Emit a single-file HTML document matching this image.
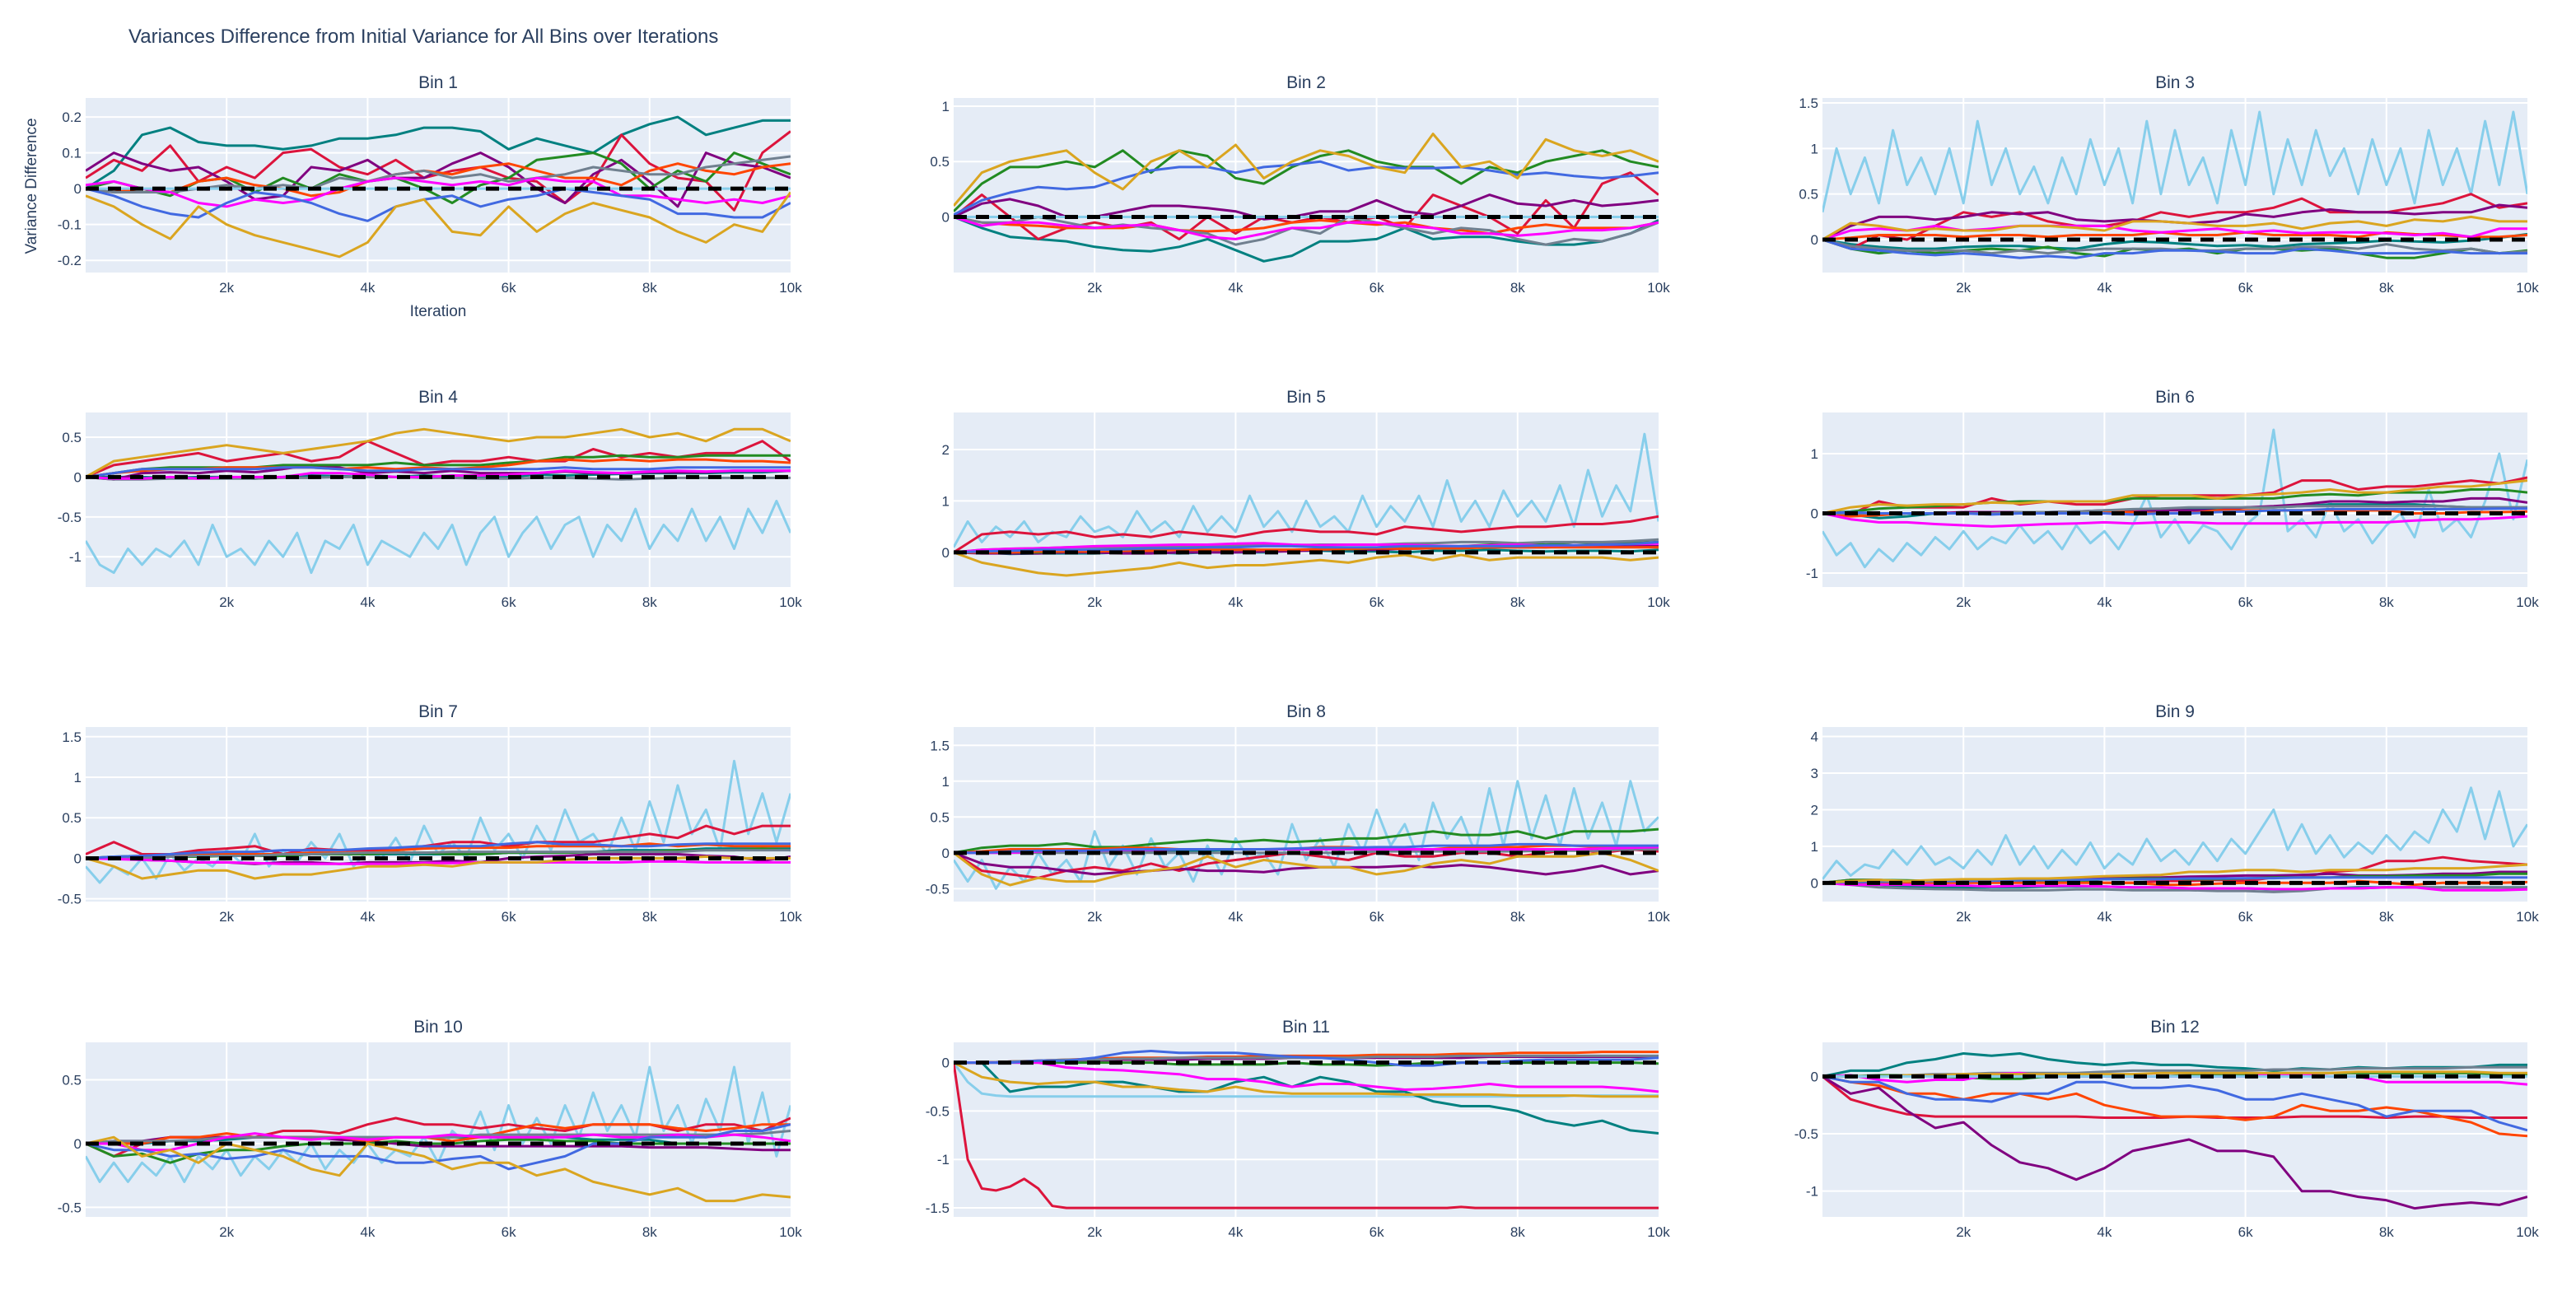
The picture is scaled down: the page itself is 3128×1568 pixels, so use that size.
<!DOCTYPE html>
<html><head><meta charset="utf-8"><style>
html,body{margin:0;padding:0;background:#fff}
svg{display:block;font-family:"Liberation Sans",Arial,sans-serif}
</style></head><body>
<svg id="chart" width="3128" height="1568" viewBox="0 0 3128 1568" xmlns="http://www.w3.org/2000/svg">
<text x="156" y="52" font-size="24" fill="#2a3f5f">Variances Difference from Initial Variance for All Bins over Iterations</text>
<text transform="translate(44,226) rotate(-90)" text-anchor="middle" font-size="19" fill="#2a3f5f">Variance Difference</text>
<text x="532" y="384" text-anchor="middle" font-size="19" fill="#2a3f5f">Iteration</text>
<g id="panels"></g>
</svg>
<script>
const xCoarse=[0,400,800,1200,1600,2000,2400,2800,3200,3600,4000,4400,4800,5200,5600,6000,6400,6800,7200,7600,8000,8400,8800,9200,9600,10000];
const xFine=[0,200,400,600,800,1000,1200,1400,1600,1800,2000,2200,2400,2600,2800,3000,3200,3400,3600,3800,4000,4200,4400,4600,4800,5000,5200,5400,5600,5800,6000,6200,6400,6600,6800,7000,7200,7400,7600,7800,8000,8200,8400,8600,8800,9000,9200,9400,9600,9800,10000];
const xTickVals=[2000,4000,6000,8000,10000];
const xTickLabels=["2k","4k","6k","8k","10k"];
const seriesColors={skyblue:"#87CEEB",teal:"#008080",crimson:"#DC143C",purple:"#800080",green:"#228B22",orangered:"#FF4500",slategray:"#708090",magenta:"#FF00FF",royalblue:"#4169E1",goldenrod:"#DAA520"};
const binNames=["Bin 1","Bin 2","Bin 3","Bin 4","Bin 5","Bin 6","Bin 7","Bin 8","Bin 9","Bin 10","Bin 11","Bin 12"];
const yRanges=[[-0.234,0.253],[-0.502,1.074],[-0.361,1.554],[-1.38,0.81],[-0.674,2.72],[-1.235,1.69],[-0.534,1.62],[-0.68,1.756],[-0.51,4.26],[-0.575,0.794],[-1.593,0.209],[-1.225,0.297]];
const yTicks=[[-0.2,-0.1,0,0.1,0.2],[0,0.5,1],[0,0.5,1,1.5],[-1,-0.5,0,0.5],[0,1,2],[-1,0,1],[-0.5,0,0.5,1,1.5],[-0.5,0,0.5,1,1.5],[0,1,2,3,4],[-0.5,0,0.5],[-1.5,-1,-0.5,0],[-1,-0.5,0]];
const yTickLabels=[["-0.2","-0.1","0","0.1","0.2"],["0","0.5","1"],["0","0.5","1","1.5"],["-1","-0.5","0","0.5"],["0","1","2"],["-1","0","1"],["-0.5","0","0.5","1","1.5"],["-0.5","0","0.5","1","1.5"],["0","1","2","3","4"],["-0.5","0","0.5"],["-1.5","-1","-0.5","0"],["-1","-0.5","0"]];

const bin1={
teal:[0,0.05,0.15,0.17,0.13,0.12,0.12,0.11,0.12,0.14,0.14,0.15,0.17,0.17,0.16,0.11,0.14,0.12,0.10,0.15,0.18,0.20,0.15,0.17,0.19,0.19],
crimson:[0.03,0.08,0.05,0.12,0.02,0.06,0.03,0.10,0.11,0.06,0.04,0.08,0.03,0.05,0.06,0.03,0.02,-0.04,0.02,0.15,0.07,0.03,0.02,-0.06,0.10,0.16],
purple:[0.05,0.10,0.07,0.05,0.06,0.02,-0.03,-0.02,0.06,0.05,0.08,0.03,0.03,0.07,0.10,0.06,0.00,-0.04,0.04,0.08,0.02,-0.05,0.10,0.07,0.06,0.03],
green:[0,0.02,0.0,-0.02,0.02,0.03,-0.01,0.03,0.0,0.04,0.02,0.03,0.0,-0.04,0.01,0.03,0.08,0.09,0.10,0.07,0.00,0.05,0.02,0.10,0.07,0.04],
orangered:[0,-0.01,0.0,-0.01,0.02,0.03,0.01,0.0,-0.02,-0.01,0.02,0.04,0.05,0.04,0.06,0.07,0.05,0.03,0.03,0.01,0.05,0.07,0.05,0.04,0.06,0.07],
slategray:[0,-0.01,-0.01,-0.01,0.0,0.01,0.0,0.01,0.0,0.03,0.02,0.04,0.05,0.03,0.04,0.02,0.03,0.04,0.06,0.05,0.04,0.04,0.06,0.07,0.08,0.09],
magenta:[0.01,0.02,0.0,-0.01,-0.04,-0.05,-0.03,-0.04,-0.03,0.0,0.02,0.03,0.02,0.01,0.02,0.01,0.03,0.02,0.02,-0.02,-0.02,-0.03,-0.04,-0.03,-0.04,-0.02],
royalblue:[0,-0.02,-0.05,-0.07,-0.08,-0.04,-0.01,-0.02,-0.04,-0.07,-0.09,-0.05,-0.03,-0.02,-0.05,-0.03,-0.02,0.00,-0.01,-0.02,-0.03,-0.07,-0.07,-0.08,-0.08,-0.04],
goldenrod:[-0.02,-0.05,-0.10,-0.14,-0.05,-0.10,-0.13,-0.15,-0.17,-0.19,-0.15,-0.05,-0.03,-0.12,-0.13,-0.05,-0.12,-0.07,-0.04,-0.06,-0.08,-0.12,-0.15,-0.10,-0.12,-0.01]};
const bin2={
teal:[0,-0.1,-0.18,-0.2,-0.22,-0.27,-0.3,-0.31,-0.27,-0.2,-0.3,-0.4,-0.35,-0.22,-0.22,-0.2,-0.1,-0.2,-0.18,-0.18,-0.22,-0.25,-0.25,-0.22,-0.15,-0.03],
crimson:[0,0.2,0.0,-0.2,-0.1,-0.05,-0.1,-0.05,-0.2,0.0,-0.15,0.0,-0.05,0.0,-0.05,0.0,-0.1,0.2,0.1,0.0,-0.15,0.15,-0.1,0.3,0.4,0.2],
purple:[0,0.12,0.16,0.1,0.0,0.0,0.05,0.1,0.1,0.08,0.05,-0.02,0.0,0.05,0.05,0.15,0.05,0.02,0.1,0.2,0.12,0.1,0.15,0.1,0.12,0.15],
green:[0.05,0.3,0.45,0.45,0.5,0.45,0.6,0.4,0.6,0.55,0.35,0.3,0.45,0.55,0.6,0.5,0.45,0.45,0.3,0.45,0.4,0.5,0.55,0.6,0.5,0.45],
orangered:[0,-0.05,-0.07,-0.08,-0.1,-0.1,-0.1,-0.07,-0.12,-0.13,-0.12,-0.1,-0.05,-0.03,-0.05,-0.07,-0.05,-0.1,-0.12,-0.15,-0.1,-0.07,-0.1,-0.1,-0.1,-0.05],
slategray:[0,-0.05,-0.05,0.0,-0.05,-0.1,-0.07,-0.1,-0.12,-0.15,-0.25,-0.2,-0.1,-0.15,0.0,-0.05,-0.1,-0.15,-0.1,-0.12,-0.2,-0.25,-0.2,-0.22,-0.15,-0.05],
magenta:[0,-0.08,-0.05,-0.05,-0.08,-0.1,-0.08,-0.07,-0.12,-0.18,-0.2,-0.15,-0.1,-0.1,-0.05,-0.05,-0.08,-0.1,-0.15,-0.15,-0.17,-0.15,-0.12,-0.12,-0.1,-0.05],
royalblue:[0.02,0.15,0.22,0.27,0.25,0.27,0.35,0.42,0.45,0.45,0.4,0.45,0.47,0.5,0.42,0.45,0.44,0.44,0.45,0.42,0.38,0.40,0.37,0.35,0.37,0.40],
goldenrod:[0.1,0.4,0.5,0.55,0.6,0.4,0.25,0.5,0.6,0.45,0.65,0.35,0.5,0.6,0.55,0.45,0.4,0.75,0.45,0.5,0.35,0.7,0.6,0.55,0.6,0.5]};
const bin3={
skyblue:[0.3,1.0,0.5,0.9,0.4,1.2,0.6,0.9,0.5,1.0,0.4,1.3,0.6,1.0,0.5,0.8,0.4,0.9,0.5,1.1,0.6,1.0,0.4,1.3,0.5,1.2,0.6,0.9,0.4,1.2,0.6,1.4,0.5,1.1,0.6,1.2,0.7,1.0,0.5,1.1,0.6,1.0,0.4,1.2,0.6,1.0,0.5,1.3,0.6,1.4,0.5],
teal:[0,-0.05,-0.08,-0.1,-0.1,-0.08,-0.07,-0.07,-0.09,-0.1,-0.05,-0.02,-0.03,-0.05,-0.07,-0.06,-0.08,-0.05,-0.04,-0.03,-0.01,-0.02,-0.03,-0.01,0.02,0.06],
crimson:[0,-0.1,0.05,0.0,0.15,0.3,0.25,0.3,0.2,0.15,0.15,0.2,0.3,0.25,0.3,0.3,0.35,0.45,0.3,0.3,0.3,0.35,0.4,0.5,0.35,0.4],
purple:[0,0.15,0.25,0.25,0.22,0.25,0.3,0.28,0.3,0.22,0.2,0.22,0.2,0.18,0.2,0.28,0.25,0.3,0.33,0.3,0.3,0.28,0.3,0.3,0.38,0.35],
green:[0,-0.1,-0.15,-0.12,-0.15,-0.12,-0.1,-0.12,-0.08,-0.15,-0.18,-0.1,-0.12,-0.1,-0.15,-0.1,-0.1,-0.12,-0.1,-0.15,-0.2,-0.2,-0.15,-0.1,-0.15,-0.12],
orangered:[0,0.02,0.05,0.05,0.05,0.03,0.05,0.05,0.03,0.05,0.05,0.05,0.08,0.05,0.05,0.08,0.05,0.05,0.05,0.03,0.08,0.06,0.05,0.03,0.03,0.05],
slategray:[0,-0.07,-0.1,-0.12,-0.12,-0.12,-0.15,-0.12,-0.15,-0.12,-0.1,-0.1,-0.1,-0.12,-0.12,-0.1,-0.1,-0.08,-0.08,-0.1,-0.05,-0.1,-0.12,-0.1,-0.15,-0.13],
magenta:[0,0.1,0.12,0.1,0.15,0.1,0.12,0.15,0.15,0.15,0.15,0.1,0.08,0.1,0.12,0.08,0.1,0.07,0.08,0.08,0.07,0.05,0.07,0.03,0.12,0.12],
royalblue:[0,-0.1,-0.12,-0.15,-0.17,-0.15,-0.17,-0.2,-0.18,-0.2,-0.15,-0.15,-0.12,-0.12,-0.13,-0.15,-0.15,-0.1,-0.12,-0.15,-0.15,-0.15,-0.13,-0.15,-0.15,-0.15],
goldenrod:[0,0.18,0.15,0.1,0.12,0.1,0.1,0.15,0.15,0.13,0.1,0.2,0.2,0.18,0.15,0.15,0.18,0.12,0.18,0.2,0.15,0.22,0.2,0.25,0.2,0.2]};
const bin4={
skyblue:[-0.8,-1.1,-1.2,-0.9,-1.1,-0.9,-1.0,-0.8,-1.1,-0.6,-1.0,-0.9,-1.1,-0.8,-1.0,-0.7,-1.2,-0.8,-0.9,-0.6,-1.1,-0.8,-0.9,-1.0,-0.7,-0.9,-0.6,-1.1,-0.7,-0.5,-1.0,-0.7,-0.5,-0.9,-0.6,-0.5,-1.0,-0.6,-0.8,-0.4,-0.9,-0.6,-0.8,-0.4,-0.8,-0.5,-0.9,-0.4,-0.7,-0.3,-0.7],
goldenrod:[0,0.2,0.25,0.3,0.35,0.4,0.35,0.3,0.35,0.4,0.45,0.55,0.6,0.55,0.5,0.45,0.5,0.5,0.55,0.6,0.5,0.55,0.45,0.6,0.6,0.45],
crimson:[0,0.15,0.2,0.25,0.3,0.2,0.25,0.3,0.2,0.25,0.45,0.3,0.15,0.2,0.2,0.25,0.2,0.2,0.35,0.25,0.3,0.25,0.3,0.3,0.45,0.2],
green:[0,0.05,0.1,0.12,0.12,0.12,0.12,0.15,0.15,0.15,0.15,0.18,0.15,0.15,0.15,0.18,0.2,0.25,0.25,0.27,0.25,0.25,0.27,0.27,0.27,0.27],
orangered:[0,0.05,0.08,0.1,0.1,0.12,0.12,0.12,0.12,0.1,0.12,0.1,0.12,0.1,0.12,0.15,0.2,0.22,0.2,0.22,0.2,0.22,0.22,0.2,0.2,0.18],
royalblue:[0,0.05,0.1,0.1,0.1,0.1,0.1,0.12,0.12,0.1,0.08,0.08,0.1,0.1,0.1,0.1,0.1,0.12,0.1,0.1,0.1,0.12,0.12,0.12,0.12,0.12],
purple:[0,-0.03,0.05,0.06,0.05,0.08,0.06,0.1,0.15,0.12,0.05,0.07,0.05,0.08,0.05,0.05,0.05,0.07,0.05,0.05,0.06,0.06,0.06,0.08,0.08,0.08],
magenta:[0,-0.02,-0.02,0.0,-0.02,0.0,0.0,0.0,0.05,0.05,0.03,0.0,0.0,0.02,0.02,0.03,0.05,0.08,0.06,0.05,0.07,0.08,0.07,0.08,0.08,0.08],
teal:[0,0.0,0.0,-0.01,0.0,0.0,-0.02,0.0,0.02,0.01,0.0,0.0,0.02,0.0,0.0,0.0,0.03,0.02,0.03,0.04,0.05,0.05,0.05,0.06,0.06,0.08],
slategray:[0,-0.03,-0.03,-0.02,-0.02,-0.02,-0.02,-0.01,-0.01,0.0,0.0,0.0,-0.01,-0.01,-0.02,-0.02,-0.01,-0.01,-0.02,-0.03,-0.02,-0.01,-0.01,-0.01,-0.01,-0.01]};
const bin5={
skyblue:[0.1,0.6,0.2,0.5,0.3,0.6,0.2,0.4,0.3,0.7,0.4,0.5,0.3,0.8,0.4,0.6,0.3,0.9,0.4,0.7,0.4,1.1,0.5,0.8,0.4,1.0,0.5,0.7,0.4,1.1,0.5,0.9,0.6,1.1,0.5,1.4,0.6,1.0,0.5,1.2,0.7,1.0,0.6,1.3,0.5,1.6,0.7,1.3,0.8,2.3,0.6],
crimson:[0,0.35,0.4,0.35,0.4,0.3,0.35,0.3,0.4,0.35,0.3,0.4,0.45,0.4,0.4,0.35,0.5,0.45,0.4,0.45,0.5,0.5,0.55,0.55,0.6,0.7],
goldenrod:[0,-0.2,-0.3,-0.4,-0.45,-0.4,-0.35,-0.3,-0.2,-0.3,-0.25,-0.25,-0.2,-0.15,-0.2,-0.1,-0.05,-0.15,-0.05,-0.15,-0.1,-0.1,-0.1,-0.1,-0.15,-0.1],
teal:[0,0.0,-0.03,-0.02,-0.02,-0.02,0.0,0.0,-0.02,0.0,0.0,0.0,0.03,0.03,0.02,0.02,0.0,0.03,0.03,0.05,0.03,0.02,0.03,0.03,0.02,0.05],
slategray:[0,0.05,0.07,0.08,0.1,0.1,0.1,0.12,0.12,0.13,0.13,0.14,0.14,0.15,0.15,0.15,0.17,0.18,0.2,0.2,0.18,0.2,0.2,0.2,0.22,0.25],
magenta:[0,0.05,0.07,0.08,0.1,0.12,0.13,0.14,0.15,0.15,0.17,0.18,0.15,0.14,0.15,0.15,0.15,0.13,0.12,0.14,0.15,0.13,0.14,0.15,0.16,0.17],
royalblue:[0,0.02,0.03,0.05,0.05,0.05,0.06,0.08,0.08,0.1,0.1,0.12,0.12,0.1,0.1,0.1,0.12,0.12,0.12,0.12,0.12,0.14,0.14,0.15,0.16,0.2],
green:[0,0.0,0.0,0.0,0.02,0.02,0.03,0.05,0.05,0.05,0.05,0.05,0.05,0.06,0.06,0.08,0.1,0.1,0.12,0.15,0.15,0.15,0.2,0.18,0.18,0.2],
orangered:[0,0.0,0.0,0.02,0.02,0.02,0.03,0.03,0.05,0.05,0.05,0.05,0.05,0.06,0.07,0.08,0.07,0.08,0.08,0.1,0.1,0.1,0.1,0.1,0.1,0.1],
purple:[0,-0.02,-0.02,-0.02,0.0,0.0,-0.02,-0.02,0.0,0.0,0.0,0.02,0.02,0.05,0.05,0.05,0.07,0.08,0.1,0.1,0.1,0.1,0.12,0.12,0.12,0.12]};
const bin6={
skyblue:[-0.3,-0.7,-0.5,-0.9,-0.6,-0.8,-0.5,-0.7,-0.4,-0.6,-0.3,-0.6,-0.4,-0.5,-0.2,-0.5,-0.3,-0.6,-0.2,-0.5,-0.3,-0.6,-0.2,0.3,-0.4,-0.1,-0.5,-0.2,-0.3,-0.6,-0.2,0.0,1.4,-0.3,-0.1,-0.4,0.2,-0.3,-0.1,-0.5,-0.2,0.0,-0.4,0.4,-0.3,-0.1,-0.4,0.2,1.0,-0.1,0.9],
crimson:[0,-0.02,0.2,0.1,0.1,0.1,0.25,0.15,0.2,0.15,0.15,0.25,0.3,0.3,0.3,0.3,0.35,0.55,0.55,0.4,0.45,0.45,0.5,0.55,0.5,0.6],
goldenrod:[0,0.1,0.15,0.13,0.15,0.15,0.18,0.17,0.2,0.2,0.2,0.3,0.3,0.3,0.25,0.3,0.32,0.35,0.4,0.35,0.35,0.4,0.45,0.45,0.5,0.55],
green:[0,0.03,0.08,0.1,0.12,0.15,0.18,0.2,0.2,0.2,0.2,0.25,0.25,0.25,0.25,0.25,0.25,0.3,0.32,0.3,0.35,0.35,0.35,0.4,0.4,0.35],
purple:[0,0.0,0.0,0.0,0.0,0.02,0.02,0.02,0.02,0.03,0.05,0.05,0.05,0.05,0.05,0.1,0.12,0.15,0.2,0.2,0.18,0.2,0.2,0.25,0.25,0.18],
teal:[0,-0.02,-0.08,-0.05,0.0,0.0,0.0,0.0,0.02,0.03,0.02,0.02,0.05,0.07,0.08,0.1,0.1,0.12,0.15,0.15,0.15,0.15,0.12,0.1,0.1,0.1],
slategray:[0,0.0,0.0,0.0,0.0,0.0,0.0,0.02,0.02,0.03,0.05,0.07,0.08,0.1,0.1,0.1,0.1,0.12,0.12,0.12,0.12,0.12,0.12,0.1,0.1,0.1],
royalblue:[0,0.02,0.0,0.0,0.0,0.0,-0.02,0.0,0.0,0.0,0.0,-0.02,0.0,0.0,0.02,0.03,0.05,0.05,0.07,0.07,0.07,0.07,0.07,0.07,0.08,0.08],
orangered:[0,-0.05,-0.03,0.0,0.0,0.0,0.0,0.0,0.0,0.02,0.02,0.02,0.0,0.0,0.05,0.05,0.05,0.05,0.05,0.05,0.05,0.0,0.0,0.02,0.02,0.03],
magenta:[0,-0.1,-0.15,-0.15,-0.18,-0.2,-0.22,-0.2,-0.18,-0.17,-0.15,-0.17,-0.15,-0.15,-0.17,-0.17,-0.17,-0.17,-0.15,-0.15,-0.15,-0.12,-0.1,-0.1,-0.08,-0.05]};
const bin7={
skyblue:[-0.1,-0.3,-0.1,-0.2,0.0,-0.25,0.05,-0.15,0.0,-0.1,0.1,-0.05,0.3,-0.1,0.1,-0.05,0.2,0.0,0.3,-0.1,0.1,0.0,0.25,-0.05,0.4,0.05,0.2,0.0,0.5,0.1,0.3,0.0,0.4,0.1,0.6,0.2,0.3,0.05,0.5,0.1,0.7,0.2,0.9,0.3,0.6,0.1,1.2,0.3,0.8,0.2,0.8],
crimson:[0.05,0.2,0.05,0.05,0.1,0.12,0.15,0.05,0.12,0.1,0.1,0.1,0.15,0.2,0.2,0.15,0.2,0.2,0.2,0.25,0.3,0.25,0.4,0.3,0.4,0.4],
goldenrod:[0,-0.1,-0.25,-0.2,-0.15,-0.15,-0.25,-0.2,-0.2,-0.15,-0.1,-0.1,-0.08,-0.1,-0.05,-0.05,-0.05,-0.02,0.0,0.0,0.0,0.0,0.02,0.0,0.0,0.0],
royalblue:[0,0.02,0.03,0.05,0.07,0.08,0.08,0.1,0.1,0.1,0.12,0.13,0.15,0.15,0.15,0.18,0.2,0.17,0.17,0.15,0.15,0.17,0.18,0.18,0.18,0.18],
orangered:[0,0.0,0.02,0.02,0.05,0.05,0.05,0.05,0.07,0.07,0.07,0.1,0.12,0.13,0.13,0.13,0.15,0.15,0.15,0.15,0.18,0.15,0.17,0.15,0.15,0.15],
green:[0,0.02,0.03,0.02,0.02,0.03,0.03,0.03,0.05,0.05,0.05,0.07,0.07,0.05,0.05,0.07,0.07,0.07,0.08,0.08,0.08,0.1,0.1,0.1,0.12,0.1],
slategray:[0,0.0,0.0,0.02,0.03,0.03,0.03,0.05,0.05,0.06,0.07,0.07,0.07,0.08,0.08,0.08,0.08,0.08,0.08,0.08,0.08,0.08,0.1,0.1,0.1,0.1],
teal:[0,0.02,0.02,0.03,0.03,0.03,0.03,0.03,0.05,0.05,0.05,0.05,0.05,0.05,0.05,0.07,0.07,0.07,0.08,0.1,0.1,0.1,0.12,0.12,0.12,0.12],
purple:[0,0.0,-0.02,-0.03,-0.05,-0.05,-0.07,-0.05,-0.05,-0.07,-0.05,-0.05,-0.05,-0.03,-0.05,0.0,0.02,0.03,0.05,0.05,0.05,0.05,0.03,0.02,-0.03,0.02],
magenta:[0,-0.01,-0.02,-0.03,-0.05,-0.05,-0.06,-0.07,-0.07,-0.07,-0.07,-0.07,-0.06,-0.06,-0.05,-0.05,-0.05,-0.05,-0.05,-0.05,-0.04,-0.04,-0.05,-0.05,-0.05,-0.05]};
const bin8={
skyblue:[-0.1,-0.4,-0.1,-0.5,-0.2,-0.4,0.0,-0.3,-0.1,-0.4,0.3,-0.2,0.1,-0.3,0.2,-0.2,0.0,-0.4,0.1,-0.3,0.2,-0.1,0.0,-0.3,0.4,-0.1,0.2,-0.2,0.4,0.0,0.6,0.1,0.4,-0.1,0.7,0.2,0.5,0.0,0.9,0.1,1.0,0.2,0.8,0.1,0.9,0.2,0.7,0.1,1.0,0.3,0.5],
green:[0,0.07,0.1,0.1,0.13,0.08,0.08,0.12,0.15,0.18,0.15,0.18,0.15,0.17,0.2,0.2,0.25,0.3,0.25,0.25,0.3,0.2,0.3,0.3,0.3,0.33],
crimson:[0,-0.25,-0.3,-0.35,-0.25,-0.2,-0.25,-0.15,-0.25,-0.15,-0.1,-0.05,0.0,-0.05,-0.1,0.0,-0.05,-0.05,0.0,0.0,-0.05,0.0,0.05,0.0,0.05,0.02],
goldenrod:[0,-0.3,-0.45,-0.35,-0.4,-0.4,-0.3,-0.25,-0.2,-0.05,-0.2,-0.1,-0.15,-0.2,-0.2,-0.3,-0.25,-0.15,-0.1,-0.15,-0.05,-0.05,-0.05,0.0,-0.1,-0.25],
purple:[0,-0.15,-0.2,-0.2,-0.25,-0.3,-0.27,-0.25,-0.22,-0.25,-0.25,-0.27,-0.22,-0.2,-0.2,-0.2,-0.18,-0.2,-0.17,-0.2,-0.25,-0.3,-0.25,-0.18,-0.3,-0.25],
orangered:[0,0.02,0.05,0.05,0.05,0.05,0.07,0.07,0.05,0.05,0.05,0.05,0.05,0.08,0.08,0.05,0.05,0.05,0.08,0.08,0.08,0.1,0.1,0.08,0.08,0.08],
royalblue:[0,0.0,0.02,0.03,0.03,0.03,0.05,0.05,0.05,0.05,0.05,0.05,0.06,0.07,0.07,0.08,0.08,0.1,0.1,0.1,0.12,0.12,0.1,0.1,0.1,0.1],
magenta:[0,0.0,0.0,0.02,0.03,0.03,0.04,0.04,0.05,0.05,0.05,0.05,0.05,0.05,0.05,0.05,0.05,0.05,0.05,0.05,0.05,0.05,0.05,0.06,0.07,0.08],
teal:[0,0.0,0.02,0.02,0.02,0.03,0.03,0.03,0.03,0.03,0.05,0.05,0.05,0.05,0.05,0.05,0.05,0.05,0.05,0.05,0.05,0.05,0.05,0.05,0.05,0.05],
slategray:[0,0.0,0.0,0.0,0.0,0.0,0.0,0.0,0.0,0.0,0.0,0.0,0.0,0.0,0.0,0.02,0.02,0.02,0.02,0.02,0.02,0.03,0.03,0.03,0.05,0.05]};
const bin9={
skyblue:[0.1,0.6,0.2,0.5,0.4,0.9,0.5,1.0,0.5,0.7,0.4,0.9,0.5,1.3,0.5,1.0,0.4,0.9,0.5,1.1,0.4,0.8,0.5,1.2,0.6,0.9,0.5,1.1,0.6,1.2,0.8,1.4,2.0,0.9,1.6,0.8,1.3,0.7,1.1,0.8,1.3,0.9,1.4,1.1,2.0,1.4,2.6,1.2,2.5,1.0,1.6],
goldenrod:[0,0.05,0.08,0.05,0.08,0.1,0.1,0.12,0.12,0.15,0.18,0.2,0.22,0.3,0.3,0.35,0.35,0.3,0.35,0.35,0.35,0.4,0.4,0.4,0.45,0.5],
crimson:[0,0.08,0.08,0.05,0.05,0.03,0.05,0.05,0.08,0.1,0.0,0.0,0.05,0.05,0.08,0.05,0.15,0.15,0.3,0.35,0.6,0.6,0.7,0.6,0.55,0.5],
purple:[0,0.02,0.03,0.05,0.05,0.07,0.08,0.1,0.1,0.12,0.15,0.15,0.15,0.17,0.18,0.2,0.2,0.22,0.25,0.2,0.2,0.22,0.25,0.25,0.3,0.3],
green:[0,0.08,0.08,0.07,0.05,0.05,0.05,0.05,0.07,0.05,0.1,0.12,0.12,0.1,0.1,0.12,0.15,0.15,0.15,0.18,0.18,0.2,0.2,0.2,0.25,0.25],
royalblue:[0,0.02,0.03,0.05,0.05,0.05,0.06,0.07,0.08,0.08,0.1,0.1,0.1,0.12,0.12,0.13,0.13,0.15,0.15,0.15,0.15,0.15,0.15,0.15,0.15,0.15],
orangered:[0,0.02,0.0,0.0,0.0,0.0,0.0,0.0,0.0,0.0,0.0,0.0,-0.05,-0.05,-0.02,0.0,0.0,0.0,0.0,0.05,0.0,-0.05,0.0,0.0,0.0,0.02],
teal:[0,-0.02,-0.05,-0.1,-0.12,-0.12,-0.12,-0.12,-0.1,-0.1,-0.1,-0.12,-0.12,-0.15,-0.15,-0.15,-0.18,-0.18,-0.15,-0.12,-0.12,-0.12,-0.12,-0.12,-0.12,-0.12],
slategray:[0,-0.05,-0.12,-0.15,-0.17,-0.18,-0.2,-0.2,-0.2,-0.18,-0.18,-0.2,-0.2,-0.2,-0.22,-0.22,-0.25,-0.22,-0.15,-0.15,-0.12,-0.12,-0.12,-0.13,-0.13,-0.13],
magenta:[0,-0.05,-0.05,-0.05,-0.07,-0.07,-0.1,-0.08,-0.08,-0.08,-0.1,-0.12,-0.12,-0.15,-0.15,-0.15,-0.17,-0.17,-0.15,-0.15,-0.12,-0.12,-0.2,-0.2,-0.2,-0.18]};
const bin10={
skyblue:[-0.1,-0.3,-0.15,-0.3,-0.15,-0.25,-0.1,-0.3,-0.1,-0.2,-0.05,-0.25,-0.1,-0.2,-0.05,-0.15,0.0,-0.2,-0.05,-0.15,0.0,-0.15,-0.05,-0.1,0.05,-0.15,0.1,0.0,0.25,-0.05,0.3,0.0,0.2,0.0,0.3,0.05,0.4,0.1,0.3,0.05,0.6,0.1,0.3,0.0,0.35,0.1,0.6,0.0,0.4,-0.1,0.3],
goldenrod:[0,0.05,-0.1,-0.05,-0.15,0.0,-0.05,-0.1,-0.2,-0.25,0.0,-0.05,-0.1,-0.2,-0.15,-0.15,-0.25,-0.2,-0.3,-0.35,-0.4,-0.35,-0.45,-0.45,-0.4,-0.42],
royalblue:[0,-0.05,-0.05,-0.1,-0.08,-0.12,-0.1,-0.05,-0.1,-0.1,-0.1,-0.15,-0.15,-0.12,-0.1,-0.2,-0.15,-0.1,0.0,0.0,0.05,0.05,0.05,0.1,0.1,0.15],
crimson:[0,-0.1,0.0,0.05,0.05,0.05,0.05,0.1,0.1,0.08,0.15,0.2,0.15,0.15,0.12,0.15,0.12,0.1,0.15,0.15,0.15,0.1,0.15,0.15,0.1,0.2],
orangered:[0,0.0,0.0,0.05,0.05,0.08,0.05,0.05,0.05,0.05,0.02,0.05,0.05,0.02,0.05,0.1,0.15,0.12,0.15,0.15,0.15,0.12,0.1,0.12,0.15,0.15],
magenta:[0,0.0,-0.05,-0.05,0.0,0.05,0.08,0.05,0.03,0.05,0.03,0.05,0.05,0.07,0.05,0.05,0.05,0.05,0.07,0.05,0.05,0.07,0.05,0.07,0.05,0.02],
green:[0,-0.1,-0.08,-0.15,-0.08,-0.05,-0.05,-0.02,0.0,0.0,0.0,0.02,0.0,0.0,0.02,0.03,0.03,0.02,0.02,0.0,0.0,0.0,0.0,0.0,0.0,0.0],
teal:[0,0.0,0.0,0.02,0.02,0.03,0.05,0.05,0.05,0.05,0.05,0.05,0.05,0.05,0.05,0.05,0.05,0.05,0.03,0.03,0.03,0.0,0.0,0.0,0.0,0.0],
slategray:[0,0.02,0.02,0.02,0.03,0.05,0.05,0.05,0.05,0.05,0.05,0.05,0.05,0.05,0.07,0.07,0.07,0.07,0.07,0.07,0.07,0.07,0.07,0.07,0.08,0.1],
purple:[0,0.02,0.02,0.05,0.05,0.05,0.05,0.05,0.05,0.03,0.02,0.0,-0.02,-0.02,-0.02,-0.02,-0.02,-0.02,-0.02,-0.02,-0.03,-0.03,-0.03,-0.04,-0.05,-0.05]};
const bin11={
skyblue:[0,-0.2,-0.32,-0.34,-0.35,-0.35,-0.35,-0.35,-0.35,-0.35,-0.35,-0.35,-0.35,-0.35,-0.35,-0.35,-0.35,-0.35,-0.35,-0.35,-0.35,-0.35,-0.35,-0.35,-0.35,-0.35,-0.35,-0.35,-0.35,-0.35,-0.35,-0.35,-0.35,-0.35,-0.35,-0.35,-0.35,-0.35,-0.35,-0.35,-0.35,-0.35,-0.35,-0.35,-0.34,-0.34,-0.34,-0.34,-0.34,-0.34,-0.34],
crimson:[0,-1.0,-1.3,-1.32,-1.28,-1.2,-1.3,-1.48,-1.5,-1.5,-1.5,-1.5,-1.5,-1.5,-1.5,-1.5,-1.5,-1.5,-1.5,-1.5,-1.5,-1.5,-1.5,-1.5,-1.5,-1.5,-1.5,-1.5,-1.5,-1.5,-1.5,-1.5,-1.5,-1.5,-1.5,-1.5,-1.49,-1.5,-1.5,-1.5,-1.5,-1.5,-1.5,-1.5,-1.5,-1.5,-1.5,-1.5,-1.5,-1.5,-1.5],
teal:[0,0.0,-0.3,-0.25,-0.25,-0.2,-0.2,-0.25,-0.3,-0.3,-0.2,-0.15,-0.25,-0.15,-0.2,-0.3,-0.3,-0.4,-0.45,-0.45,-0.5,-0.6,-0.65,-0.6,-0.7,-0.73],
goldenrod:[0,-0.15,-0.2,-0.22,-0.2,-0.2,-0.25,-0.25,-0.28,-0.3,-0.25,-0.3,-0.32,-0.32,-0.32,-0.32,-0.33,-0.33,-0.33,-0.33,-0.34,-0.34,-0.34,-0.35,-0.35,-0.35],
magenta:[0,0.0,0.0,0.0,-0.05,-0.07,-0.08,-0.1,-0.12,-0.17,-0.17,-0.2,-0.25,-0.22,-0.22,-0.25,-0.28,-0.27,-0.25,-0.22,-0.25,-0.25,-0.25,-0.25,-0.27,-0.3],
royalblue:[0,0.0,0.0,0.02,0.02,0.05,0.1,0.12,0.1,0.1,0.1,0.08,0.06,0.05,0.03,0.0,-0.03,-0.03,0.0,0.0,0.02,0.03,0.03,0.03,0.03,0.05],
orangered:[0,0.0,0.01,0.02,0.03,0.04,0.05,0.05,0.05,0.06,0.06,0.07,0.07,0.07,0.07,0.08,0.08,0.08,0.09,0.09,0.1,0.1,0.1,0.11,0.11,0.11],
slategray:[0,0.0,0.01,0.02,0.03,0.03,0.04,0.04,0.05,0.05,0.05,0.05,0.05,0.05,0.05,0.06,0.06,0.06,0.07,0.07,0.07,0.07,0.07,0.07,0.07,0.07],
purple:[0,0.0,0.01,0.01,0.02,0.02,0.03,0.03,0.03,0.04,0.04,0.04,0.05,0.05,0.05,0.05,0.05,0.05,0.05,0.06,0.06,0.06,0.06,0.06,0.06,0.06],
green:[0,0.0,0.0,0.0,0.0,0.0,0.0,0.0,-0.02,-0.02,-0.02,-0.02,0.0,-0.02,-0.02,-0.03,-0.02,0.0,0.0,0.0,0.0,0.0,0.0,0.0,0.0,-0.01]};
const bin12={
teal:[0,0.05,0.05,0.12,0.15,0.2,0.18,0.2,0.15,0.12,0.1,0.12,0.1,0.1,0.08,0.07,0.05,0.07,0.06,0.08,0.07,0.08,0.08,0.08,0.1,0.1],
purple:[0,-0.15,-0.1,-0.3,-0.45,-0.4,-0.6,-0.75,-0.8,-0.9,-0.8,-0.65,-0.6,-0.55,-0.65,-0.65,-0.7,-1.0,-1.0,-1.05,-1.08,-1.15,-1.12,-1.1,-1.12,-1.05],
crimson:[0,-0.2,-0.27,-0.33,-0.35,-0.35,-0.35,-0.35,-0.35,-0.35,-0.36,-0.36,-0.36,-0.35,-0.36,-0.36,-0.36,-0.35,-0.35,-0.35,-0.36,-0.35,-0.35,-0.36,-0.36,-0.36],
orangered:[0,-0.05,-0.08,-0.15,-0.15,-0.2,-0.15,-0.15,-0.2,-0.15,-0.25,-0.3,-0.35,-0.35,-0.35,-0.38,-0.35,-0.25,-0.3,-0.3,-0.27,-0.3,-0.35,-0.4,-0.5,-0.52],
royalblue:[0,-0.05,-0.05,-0.15,-0.2,-0.2,-0.22,-0.15,-0.15,-0.05,-0.05,-0.1,-0.1,-0.08,-0.12,-0.2,-0.2,-0.15,-0.2,-0.25,-0.35,-0.3,-0.3,-0.3,-0.4,-0.47],
magenta:[0,0.01,-0.03,-0.05,-0.03,-0.03,0.02,0.03,0.0,0.0,0.0,0.0,0.0,0.0,0.0,0.0,0.02,0.02,0.0,0.0,-0.05,-0.05,-0.05,-0.05,-0.05,-0.07],
slategray:[0,0.0,0.0,0.01,0.02,0.02,0.03,0.03,0.03,0.03,0.04,0.05,0.05,0.05,0.05,0.05,0.06,0.06,0.06,0.07,0.07,0.07,0.07,0.08,0.08,0.08],
goldenrod:[0,0.0,0.0,0.01,0.01,0.02,0.02,0.02,0.02,0.02,0.02,0.02,0.03,0.03,0.03,0.03,0.03,0.03,0.03,0.04,0.04,0.04,0.04,0.04,0.03,0.03],
green:[0,0.0,0.01,0.01,0.0,-0.01,-0.02,-0.02,0.0,0.0,0.0,0.0,0.0,0.01,0.02,0.02,0.03,0.03,0.03,0.03,0.03,0.03,0.03,0.03,0.02,0.02]};
const binData=[bin1,bin2,bin3,bin4,bin5,bin6,bin7,bin8,bin9,bin10,bin11,bin12];

const NS="http://www.w3.org/2000/svg";
const colLeft=[104,1158,2213], rowTop=[119,501,883,1266], PW=856, PH=212;
const drawOrder=["skyblue","teal","crimson","purple","green","orangered","slategray","magenta","royalblue","goldenrod"];
const root=document.getElementById("panels");
function mk(tag,attrs,parent){const e=document.createElementNS(NS,tag);for(const k in attrs)e.setAttribute(k,attrs[k]);parent.appendChild(e);return e;}

binData.forEach((data,i)=>{
  const L=colLeft[i%3], T=rowTop[Math.floor(i/3)];
  const [y0,y1]=yRanges[i];
  const xs=v=>L+v/10000*PW;
  const ys=v=>T+(y1-v)/(y1-y0)*PH;
  const g=mk("g",{},root);
  
  
  const bg=mk("rect",{x:L,y:T,width:PW,height:PH,fill:"#E5ECF6"},g);
  
  
  xTickVals.forEach((v,k)=>{
    if(v<10000){const gl=mk("line",{x1:xs(v),x2:xs(v),y1:T,y2:T+PH,stroke:"#fff","stroke-width":2},g);
    
    }
    const t=mk("text",{x:xs(v),y:T+PH+24,"text-anchor":"middle","font-size":17,fill:"#2a3f5f"},g);
    t.textContent=xTickLabels[k];
    
    
  });
  yTicks[i].forEach((v,k)=>{
    const gl=mk("line",{x1:L,x2:L+PW,y1:ys(v),y2:ys(v),stroke:"#fff","stroke-width":2},g);
    
    
    const t=mk("text",{x:L-5,y:ys(v)+6,"text-anchor":"end","font-size":17,fill:"#2a3f5f"},g);
    t.textContent=yTickLabels[i][k];
    
    
  });
  const cp=mk("clipPath",{id:"cp"+i},g);
  mk("rect",{x:L,y:T,width:PW,height:PH},cp);
  const lg=mk("g",{"clip-path":"url(#cp"+i+")"},g);
  drawOrder.forEach(name=>{
    const vals=data[name]; if(!vals) return;
    const xv=vals.length===xFine.length?xFine:xCoarse;
    const d=vals.map((v,j)=>(j?"L":"M")+xs(xv[j]).toFixed(1)+","+ys(v).toFixed(1)).join("");
    const p=mk("path",{d:d,fill:"none",stroke:seriesColors[name],"stroke-width":3,"stroke-linejoin":"round"},lg);
    
    
  });
  if(!data.skyblue){
    const p=mk("path",{d:"M"+xs(0)+","+ys(0)+"L"+xs(10000)+","+ys(0),stroke:seriesColors.skyblue,"stroke-width":3},lg);
    
    
  }
  const z=mk("line",{x1:xs(0),x2:xs(10000),y1:ys(0),y2:ys(0),stroke:"#000","stroke-width":5,"stroke-dasharray":"16,11"},lg);
  
  
  const tt=mk("text",{x:L+PW/2,y:T-12,"text-anchor":"middle","font-size":21,fill:"#2a3f5f"},g);
  tt.textContent=binNames[i];
  
  
});
</script>
</body></html>
